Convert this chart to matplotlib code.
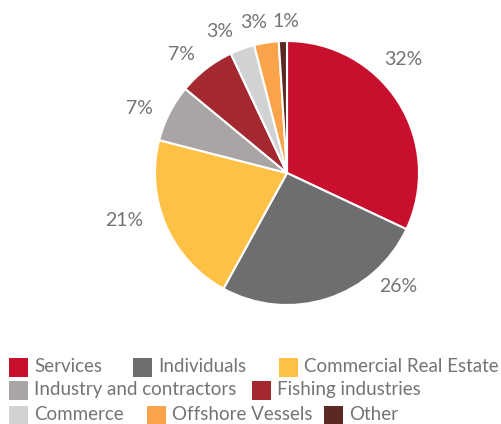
import matplotlib
matplotlib.use("Agg")
import matplotlib.pyplot as plt
from matplotlib.patches import Rectangle

categories = ["Services", "Individuals", "Commercial Real Estate",
              "Industry and contractors", "Fishing industries",
              "Commerce", "Offshore Vessels", "Other"]
shares = [32, 26, 21, 7, 7, 3, 3, 1]
colors = ["#C8102E", "#6D6E70", "#FFC145", "#A8A5A4",
          "#A4282F", "#D1D2D4", "#F9A44A", "#5C2823"]

W, H = 501, 424
fig = plt.figure(figsize=(W / 100, H / 100), dpi=100)
text_color = "#747474"
font = "Lato"

# pie axes: centre (287, 173) px, radius 132 px
cx, cy, r = 287, 173, 132
ax = fig.add_axes([(cx - r) / W, 1 - (cy + r) / H, 2 * r / W, 2 * r / H])
wedges, _ = ax.pie(
    shares, colors=colors, startangle=90, counterclock=False, radius=1,
    wedgeprops=dict(edgecolor="white", linewidth=1.5),
)
ax.set_xlim(-1, 1)
ax.set_ylim(-1, 1)
ax.set_aspect("equal")
ax.axis("off")

# percentage labels placed around the rim (axes data units, radius = 1)
label_xy = [(0.88, 0.86), (0.84, -0.86), (-1.23, -0.36), (-1.12, 0.49),
            (-0.80, 0.90), (-0.51, 1.07), (-0.25, 1.14), (-0.01, 1.15)]
for v, (lx, ly) in zip(shares, label_xy):
    ax.text(lx, ly, f"{v}%", ha="center", va="center", color=text_color,
            fontsize=14, family=font, clip_on=False)

# legend: three flowing rows of swatch + label
legend_rows = [[0, 1, 2], [3, 4], [5, 6, 7]]
row_x = [[9, 133, 279], [9, 252], [9, 147, 324]]
row_y = [367, 390, 415]
sq_w, sq_h = 19, 19
for yc, row, xs in zip(row_y, legend_rows, row_x):
    for i, x in zip(row, xs):
        fig.patches.append(Rectangle((x / W, 1 - (yc + sq_h / 2) / H), sq_w / W, sq_h / H,
                                     transform=fig.transFigure, facecolor=colors[i],
                                     edgecolor="none"))
        fig.text((x + 25) / W, 1 - yc / H, categories[i], color=text_color,
                 fontsize=13.5, family=font, va="center", ha="left")

fig.savefig("out.png", dpi=100)
